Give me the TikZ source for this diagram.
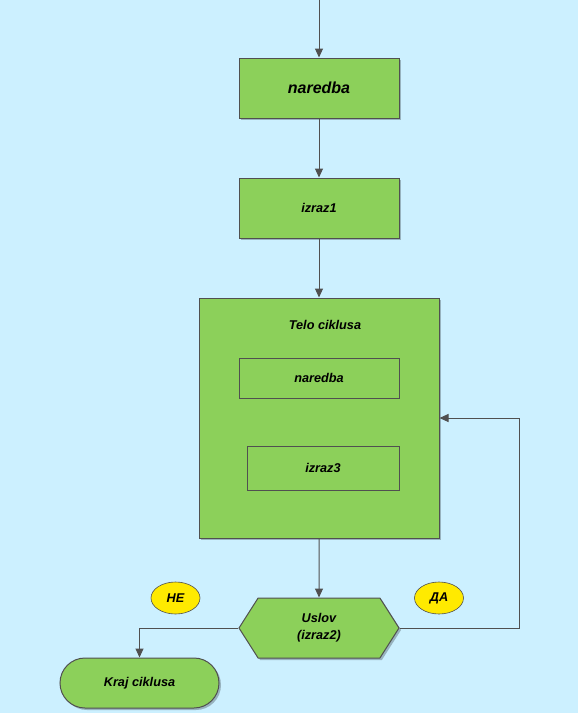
\documentclass[tikz,border=0pt]{standalone}
\usepackage{fontspec}
\setmainfont{Liberation Sans}
\usetikzlibrary{arrows.meta,shapes.geometric,shapes.misc,shapes.symbols,shadows}
\definecolor{bgblue}{RGB}{204,240,255}
\definecolor{boxgreen}{RGB}{140,208,90}
\definecolor{linegray}{RGB}{80,80,80}
\definecolor{tagyellow}{RGB}{255,234,0}
\begin{document}
\begin{tikzpicture}[x=1pt,y=-1pt,
        box/.style={draw=linegray,line width=1pt,fill=boxgreen,inner sep=0pt,
            font=\fontsize{12.7}{17}\selectfont\bfseries\itshape,
            drop shadow={shadow xshift=2pt,shadow yshift=-2pt,opacity=0.25,fill=black}},
        inbox/.style={draw=linegray,line width=1pt,fill=boxgreen,inner sep=0pt,
            font=\fontsize{12.7}{15}\selectfont\bfseries\itshape},
        tag/.style={ellipse,draw=linegray,line width=0.6pt,fill=tagyellow,inner sep=0pt,
            minimum width=49pt,minimum height=32pt,
            font=\fontsize{12.7}{15}\selectfont\bfseries\itshape},
        arr/.style={draw=linegray,line width=1pt,-{Triangle[length=9pt,width=8pt]}}]

            \fill[bgblue] (0,0) rectangle (578,713);
            \useasboundingbox (0,0) rectangle (578,713);

            \coordinate (start) at (319,0);
            \node[box,minimum width=160pt,minimum height=60pt,
                font=\fontsize{16}{18}\selectfont\bfseries\itshape] (naredba) at (319,88) {naredba};
            \node[box,minimum width=160pt,minimum height=60pt] (izraz1) at (319,208) {izraz1};

            \node[box,minimum width=240pt,minimum height=240pt] (telo) at (319,418) {};
            \node[font=\fontsize{12.7}{15}\selectfont\bfseries\itshape] (telolbl) at (325,325) {Telo ciklusa};
            \node[inbox,minimum width=160pt,minimum height=40pt] (naredba2) at (319,378) {naredba};
            \node[inbox,minimum width=152pt,minimum height=44pt] (izraz3) at (323,468) {izraz3};

            \node[box,signal,signal to=east and west,signal pointer angle=115,
                minimum width=160pt,minimum height=60pt,align=center] (uslov) at (319,628) {Uslov\\(izraz2)};
            \node[box,rounded rectangle,minimum width=159pt,minimum height=50pt] (kraj) at (139.5,683) {Kraj ciklusa};

            \node[tag] (ne) at (175.5,598) {НЕ};
            \node[tag] (da) at (439,598) {ДА};

            \coordinate (back) at (519,418);

            \draw[arr] (start) -- (naredba);
            \draw[arr] (naredba) -- (izraz1);
            \draw[arr] (izraz1) -- (telo);
            \draw[arr] (telo) -- (uslov);
            \draw[arr] (uslov.east) -| (back) -- (telo.east);
            \draw[arr] (uslov.west) -| (kraj.north);

        \end{tikzpicture}
\end{document}
